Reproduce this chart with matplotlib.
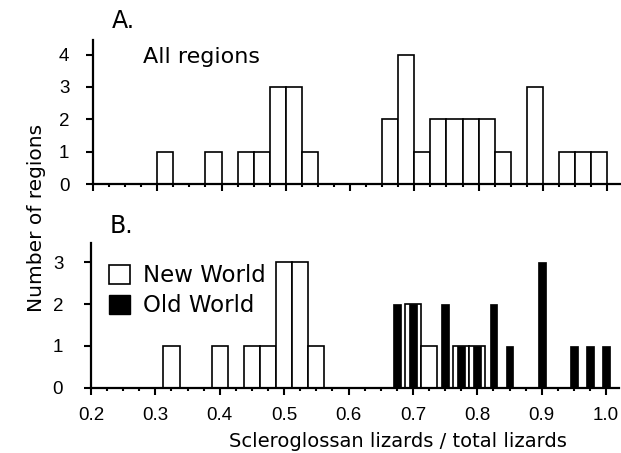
import matplotlib
matplotlib.use("Agg")
import matplotlib.pyplot as plt
from matplotlib.patches import Patch
import numpy as np

# panel A: all regions, bins of 0.025 given by left edge
all_left = [0.3, 0.375, 0.425, 0.45, 0.475, 0.5, 0.525,
            0.65, 0.675, 0.7, 0.725, 0.75, 0.775, 0.8, 0.825,
            0.875, 0.925, 0.95, 0.975]
all_count = [1, 1, 1, 1, 3, 3, 1,
             2, 4, 1, 2, 2, 2, 2, 1,
             3, 1, 1, 1]

# panel B: bin centres
new_center = [0.325, 0.4, 0.45, 0.475, 0.5, 0.525, 0.55, 0.7, 0.725, 0.775, 0.8]
new_count = [1, 1, 1, 1, 3, 3, 1, 2, 1, 1, 1]
old_center = [0.675, 0.7, 0.75, 0.775, 0.8, 0.825, 0.85, 0.9, 0.95, 0.975, 1.0]
old_count = [2, 2, 2, 1, 1, 2, 1, 3, 1, 1, 1]

xticks = [0.2, 0.3, 0.4, 0.5, 0.6, 0.7, 0.8, 0.9, 1.0]
xticklabels = ["0.2", "0.3", "0.4", "0.5", "0.6", "0.7", "0.8", "0.9", "1.0"]

W, H = 621, 453
fig = plt.figure(figsize=(W / 100, H / 100), dpi=100)
tickfont = "Liberation Sans"
textfont = "DejaVu Sans"


def px(x, y):
    return x / W, 1 - y / H


def style(ax, ymax, yticks, labels, ypad):
    ax.set_xlim(0.2, 1.02)
    ax.set_ylim(0, ymax)
    for s in ["top", "right"]:
        ax.spines[s].set_visible(False)
    for s in ["left", "bottom"]:
        ax.spines[s].set_linewidth(1.6)
    ax.set_xticks(xticks)
    ax.set_xticks(np.arange(0.2, 1.0001, 0.025), minor=True)
    ax.set_yticks(yticks)
    ax.tick_params(axis="both", which="major", direction="out", length=5, width=1.5)
    ax.tick_params(axis="x", which="minor", direction="out", length=2.5, width=1.5)
    ax.tick_params(axis="y", pad=ypad)
    ax.tick_params(axis="x", pad=9)
    if labels:
        ax.set_xticklabels(xticklabels, fontfamily=tickfont, fontsize=13.5)
    else:
        ax.set_xticklabels([])
    ax.set_yticklabels([str(v) for v in yticks], fontfamily=tickfont, fontsize=13.5)


ax1 = fig.add_axes([93 / W, 1 - 184 / H, 527 / W, 144 / H])
ax1.bar(all_left, all_count, width=0.025, align="edge",
        facecolor="white", edgecolor="black", linewidth=1.2)
style(ax1, 4.45, [0, 1, 2, 3, 4], False, 12)

ax2 = fig.add_axes([91 / W, 1 - 387.7 / H, 528 / W, 144.4 / H])
ax2.bar(new_center, new_count, width=0.025, facecolor="white",
        edgecolor="black", linewidth=1.2, zorder=2)
ax2.bar(old_center, old_count, width=0.012, facecolor="black",
        edgecolor="black", linewidth=0.5, zorder=3)
style(ax2, 3.46, [0, 1, 2, 3], True, 15)

handles = [Patch(facecolor="white", edgecolor="black", linewidth=1.2),
           Patch(facecolor="black", edgecolor="black")]
fig.legend(handles, ["New World", "Old World"], loc="upper left",
           bbox_to_anchor=px(98, 253), frameon=False, borderpad=0,
           handlelength=0.9, handleheight=0.85, handletextpad=0.55,
           labelspacing=0.3, prop={"family": textfont, "size": 16.5})

fig.text(*px(112, 21), "A.", fontfamily=textfont, fontsize=17, va="center")
fig.text(*px(110, 226), "B.", fontfamily=textfont, fontsize=17, va="center")
fig.text(*px(143, 63), "All regions", fontfamily=textfont, fontsize=16, va="baseline")
fig.text(*px(398, 447), "Scleroglossan lizards / total lizards",
         fontfamily=textfont, fontsize=14, ha="center", va="baseline")
fig.text(*px(37, 218), "Number of regions", fontfamily=textfont, fontsize=14.5,
         rotation=90, ha="center", va="center")

fig.savefig("out.png", dpi=100)
